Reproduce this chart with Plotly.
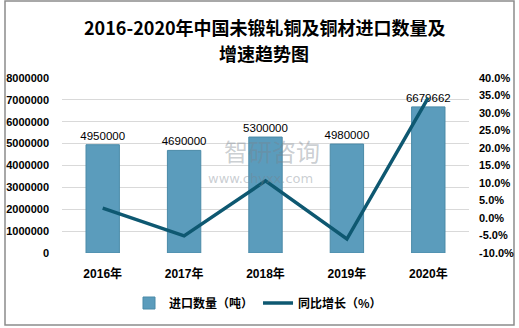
import plotly.graph_objects as go

years = ["2016年", "2017年", "2018年", "2019年", "2020年"]
import_qty = [4950000, 4690000, 5300000, 4980000, 6679662]
growth_pct = [2.8, -5.1, 10.6, -6.0, 34.4]
left_ticks = [0, 1000000, 2000000, 3000000, 4000000, 5000000, 6000000, 7000000, 8000000]
right_ticks = [-10, -5, 0, 5, 10, 15, 20, 25, 30, 35, 40]
title_lines = ["2016-2020年中国未锻轧铜及铜材进口数量及", "增速趋势图"]

W, H = 519, 328
L, R, T, B = 62, 50, 78, 75
pw, ph = W - L - R, H - T - B

def px(x):
    return (x - L) / pw

def py(y):
    return (H - B - y) / ph

fig = go.Figure()
fig.add_trace(go.Bar(
    x=years, y=import_qty, name="进口数量（吨）",
    marker=dict(color="#5b9cbc", line=dict(color="#4a8aa8", width=1)),
    width=0.41,
    text=[str(v) for v in import_qty], textposition="outside",
    textfont=dict(family="Liberation Sans, Arial", size=11.5, color="#000000"),
    constraintext="none",
    cliponaxis=False,
))
fig.add_trace(go.Scatter(
    x=years, y=growth_pct, name="同比增长（%）", yaxis="y2",
    mode="lines", line=dict(color="#0e5871", width=3.5),
))

title_font = dict(family="Noto Sans CJK SC", size=18, color="#000000", weight="bold")

fig.update_layout(
    width=W, height=H,
    margin=dict(l=L, r=R, t=T, b=B, autoexpand=False),
    paper_bgcolor="white", plot_bgcolor="white",
    xaxis=dict(
        showgrid=False, showline=False, ticks="", automargin=False,
        tickfont=dict(family="Liberation Sans, Noto Sans CJK SC", size=12, color="#000000", weight="bold"),
        ticklabelstandoff=12,
    ),
    yaxis=dict(
        range=[0, 8000000], tickvals=left_ticks, ticktext=[str(v) for v in left_ticks],
        showgrid=True, gridcolor="#d9d9d9", gridwidth=1, zeroline=False, automargin=False,
        tickfont=dict(family="Liberation Sans, Arial", size=11, color="#000000", weight="bold"),
        ticklabelstandoff=12,
    ),
    yaxis2=dict(
        range=[-10, 40], overlaying="y", side="right", automargin=False,
        tickvals=right_ticks, ticktext=[f"{v:.1f}%" for v in right_ticks],
        showgrid=False, zeroline=False,
        tickfont=dict(family="Liberation Sans, Arial", size=11, color="#000000", weight="bold"),
        ticklabelstandoff=9,
    ),
    showlegend=True,
    legend=dict(
        orientation="h", x=px(258), xanchor="center", y=py(303), yanchor="middle",
        font=dict(family="Noto Sans CJK SC", size=12, color="#000000", weight="bold"),
        itemwidth=30, tracegroupgap=0, bgcolor="rgba(0,0,0,0)",
    ),
    shapes=[dict(
        type="rect", xref="paper", yref="paper",
        x0=px(5), x1=px(514), y0=py(325), y1=py(1),
        line=dict(color="#8c8c8c", width=1.5), fillcolor="rgba(0,0,0,0)", layer="below",
    )],
    annotations=[
        dict(text=title_lines[0], xref="paper", yref="paper", x=px(265), y=py(27),
             xanchor="center", yanchor="middle", showarrow=False, font=title_font),
        dict(text=title_lines[1], xref="paper", yref="paper", x=px(264), y=py(53),
             xanchor="center", yanchor="middle", showarrow=False, font=title_font),
        dict(text="智研咨询", xref="paper", yref="paper", x=px(272), y=py(150),
             showarrow=False, font=dict(family="Noto Sans CJK SC", size=24, color="rgba(120,130,140,0.4)")),
        dict(text="www.chyxx.com", xref="paper", yref="paper", x=px(260), y=py(178),
             showarrow=False, font=dict(family="DejaVu Sans", size=13, color="rgba(120,130,140,0.4)")),
    ],
)

fig.write_html("out.html")
